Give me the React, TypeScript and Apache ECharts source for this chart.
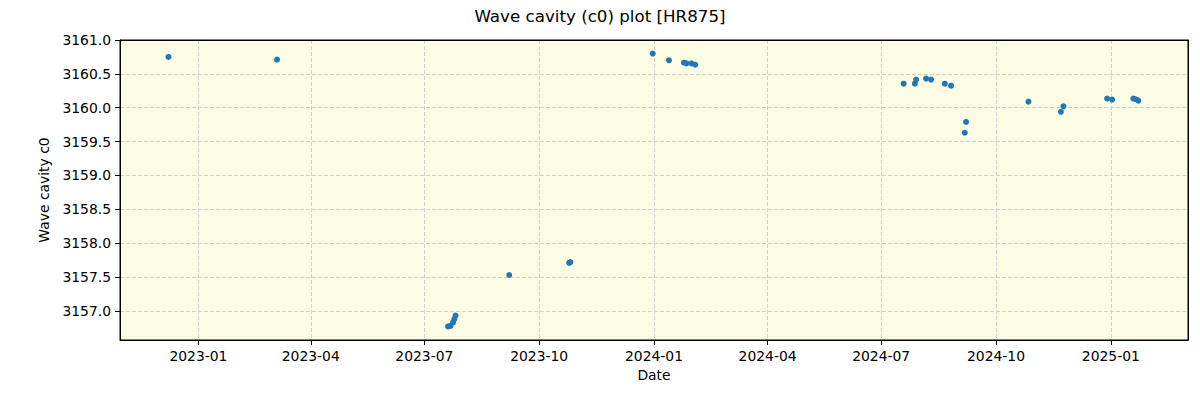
import React, { useEffect, useRef } from "react";
import * as echarts from "echarts";

const dates: string[] = [
  "2022-12-08", "2023-03-05",
  "2023-07-20", "2023-07-22", "2023-07-24", "2023-07-25", "2023-07-26",
  "2023-09-07", "2023-10-25", "2023-10-26",
  "2023-12-31", "2024-01-13", "2024-01-25", "2024-01-27", "2024-01-31", "2024-02-03",
  "2024-07-19", "2024-07-28", "2024-07-29", "2024-08-06", "2024-08-10", "2024-08-21", "2024-08-26",
  "2024-09-06", "2024-09-07",
  "2024-10-27", "2024-11-22", "2024-11-24",
  "2024-12-29", "2025-01-02", "2025-01-19", "2025-01-21", "2025-01-23",
];

const values: number[] = [
  3160.75, 3160.71,
  3156.77, 3156.78, 3156.83, 3156.88, 3156.93,
  3157.53, 3157.71, 3157.72,
  3160.8, 3160.7, 3160.665, 3160.655, 3160.655, 3160.635,
  3160.355, 3160.355, 3160.415, 3160.43, 3160.415, 3160.355, 3160.325,
  3159.63, 3159.79,
  3160.09, 3159.94, 3160.02,
  3160.135, 3160.12, 3160.135, 3160.125, 3160.105,
];

const xTickDates: string[] = [
  "2023-01-01", "2023-04-01", "2023-07-01", "2023-10-01",
  "2024-01-01", "2024-04-01", "2024-07-01", "2024-10-01", "2025-01-01",
];

const yTicks: number[] = [3157.0, 3157.5, 3158.0, 3158.5, 3159.0, 3159.5, 3160.0, 3160.5, 3161.0];

const xMin = "2022-10-30T04:00:00Z";
const xMax = "2025-03-03T20:00:00Z";
const yMin = 3156.57;
const yMax = 3161.0;

const FONT = "DejaVu Sans";

export default function App() {
  const ref = useRef<HTMLDivElement>(null);
  useEffect(() => {
    if (!ref.current) return;
    const chart = echarts.init(ref.current, undefined, { renderer: "svg" });
    const data = dates.map((d, i) => [Date.parse(d + "T00:00:00Z"), values[i]]);
    const xTicks = xTickDates.map((d) => Date.parse(d + "T00:00:00Z"));
    const pad = (n: number) => (n < 10 ? "0" + n : "" + n);
    const frameAxis = {
      axisLine: { show: true, onZero: false, lineStyle: { color: "#000", width: 1 } },
      axisTick: { show: false },
      axisLabel: { show: false },
      splitLine: { show: false },
    };
    chart.setOption({
      animation: false,
      backgroundColor: "#ffffff",
      title: {
        text: "Wave cavity (c0) plot [HR875]",
        left: "center",
        top: 2,
        textStyle: { fontFamily: FONT, fontSize: 16.7, fontWeight: "normal", color: "#000" },
      },
      grid: {
        left: 120,
        right: 12,
        top: 40,
        bottom: 60,
        show: true,
        backgroundColor: "#FCFBE3",
        borderColor: "#000",
        borderWidth: 1,
        containLabel: false,
      },
      xAxis: [
        {
          type: "value",
          min: Date.parse(xMin),
          max: Date.parse(xMax),
          name: "Date",
          nameLocation: "middle",
          nameGap: 28,
          nameTextStyle: { fontFamily: FONT, fontSize: 13.9, color: "#000" },
          axisLine: { show: true, onZero: false, lineStyle: { color: "#000", width: 1 } },
          axisTick: { show: true, length: 5, customValues: xTicks, lineStyle: { color: "#000" } },
          axisLabel: {
            customValues: xTicks,
            margin: 9,
            fontFamily: FONT,
            fontSize: 13.9,
            color: "#000",
            formatter: (v: number) => {
              const d = new Date(v);
              return d.getUTCFullYear() + "-" + pad(d.getUTCMonth() + 1);
            },
          },
          splitLine: { show: true, lineStyle: { color: "#d0d0d0", type: [4, 2], width: 1 } },
        },
        {
          type: "value",
          position: "top",
          min: Date.parse(xMin),
          max: Date.parse(xMax),
          ...frameAxis,
        },
      ],
      yAxis: [
        {
          type: "value",
          min: yMin,
          max: yMax,
          name: "Wave cavity c0",
          nameLocation: "middle",
          nameGap: 58,
          nameTextStyle: { fontFamily: FONT, fontSize: 13.9, color: "#000" },
          axisLine: { show: true, onZero: false, lineStyle: { color: "#000", width: 1 } },
          axisTick: { show: true, length: 5, customValues: yTicks, lineStyle: { color: "#000" } },
          axisLabel: {
            customValues: yTicks,
            margin: 9,
            fontFamily: FONT,
            fontSize: 13.9,
            color: "#000",
            formatter: (v: number) => v.toFixed(1),
          },
          splitLine: { show: true, lineStyle: { color: "#d0d0d0", type: [4, 2], width: 1 } },
        },
        {
          type: "value",
          position: "right",
          min: yMin,
          max: yMax,
          ...frameAxis,
        },
      ],
      series: [
        {
          type: "scatter",
          data,
          symbol: "circle",
          symbolSize: 6,
          itemStyle: { color: "#1f77b4", opacity: 1 },
        },
      ],
    });
    return () => chart.dispose();
  }, []);
  return (
    <div
      ref={ref}
      style={{ position: "fixed", left: 0, top: 0, width: 1200, height: 400 }}
    />
  );
}
